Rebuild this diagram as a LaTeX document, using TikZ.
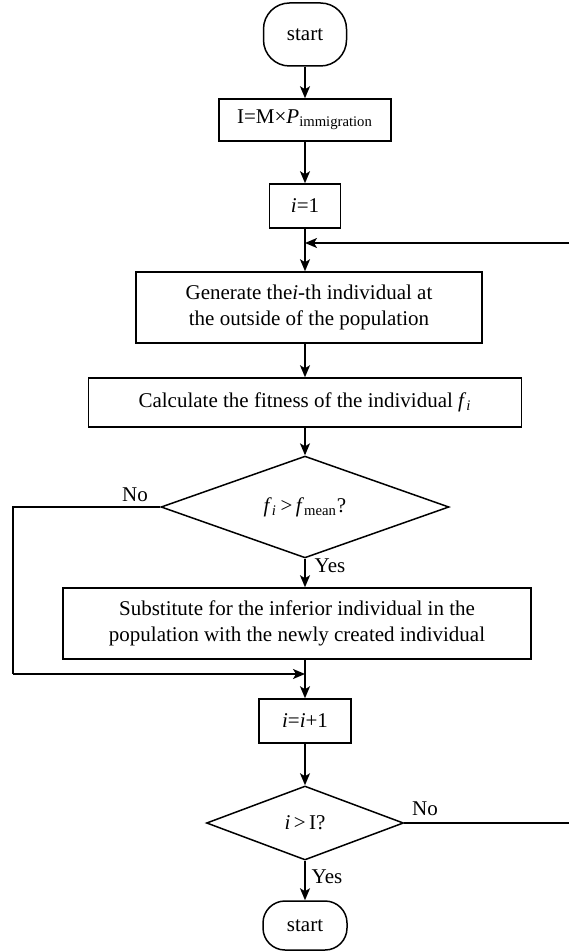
\documentclass[tikz,border=0pt]{standalone}
\usepackage{fontspec}
\setmainfont{Liberation Serif}
\usetikzlibrary{shapes.geometric,arrows.meta}

\begin{document}
\begin{tikzpicture}[x=0.5pt,y=-0.5pt,line width=0.75pt,
  font=\fontsize{10.5}{13}\selectfont,
  box/.style={draw,rectangle,inner sep=0pt,align=center},
  term/.style={draw,rectangle,rounded corners=13pt,inner sep=0pt},
  test/.style={draw,diamond,inner sep=0pt},
  flow/.style={-{Stealth[length=6pt,width=5pt,inset=1.5pt]}}]
\useasboundingbox (0,0) rectangle (569,951);
\def\ax{305};   % x of the main column
\def\rx{569};   % right edge, where the loop back leaves the picture
% nodes
\node[term,minimum width=41.5pt,minimum height=31.5pt] (start) at (\ax,34.5) {start};
\node[box,minimum width=86pt,minimum height=21pt] (imm) at (\ax,120) {I=M×\textit{P}\textsubscript{immigration}};
\node[box,minimum width=35.5pt,minimum height=22pt] (ione) at (\ax,206) {\textit{i}=1};
\node[box,minimum width=173pt,minimum height=35.5pt] (gen) at (\ax+4,307.5) {Generate the\textit{i}-th individual at\\the outside of the population};
\node[box,minimum width=216.5pt,minimum height=24.5pt] (calc) at (\ax,402.5) {Calculate the fitness of the individual \textit{f}\textsubscript{\textit{i}}};
\node[test,minimum width=144pt,minimum height=37pt] (fit) at (\ax,507) {\textit{f}\textsubscript{\textit{i}}\,>\,\textit{f}\textsubscript{mean}?};
\node[box,minimum width=234pt,minimum height=35.5pt] (subst) at (\ax-8,623.5) {Substitute for the inferior individual in the\\population with the newly created individual};
\node[box,minimum width=46pt,minimum height=22pt] (inc) at (\ax,721) {\textit{i}=\textit{i}+1};
\node[test,minimum width=98.5pt,minimum height=37pt] (done) at (\ax,823) {\textit{i}\,>\,I?};
\node[term,rounded corners=11pt,minimum width=42pt,minimum height=24.5pt] (stop) at (\ax,925.5) {start};
% labels
\node (no1) at (135,495) {No};
\node (yes1) at (330,566) {Yes};
\node (no2) at (425,809) {No};
\node (yes2) at (327,877) {Yes};
% corner points
\coordinate (left1) at (13,507);
\coordinate (left2) at (13,674);
\coordinate (back1) at (\rx,823);
\coordinate (back2) at (\rx,243);
% connectors
\draw[flow] (start) -- (imm);
\draw[flow] (imm) -- (ione);
\draw[flow] (ione) -- (gen.north -| ione.south);
\draw[flow] (gen.south -| calc.north) -- (calc);
\draw[flow] (calc) -- (fit);
\draw[flow] (fit) -- (subst.north -| fit.south);
\draw (fit.west) -- (left1) -- (left2);
\draw[flow] (left2) -- (left2 -| inc.north);
\draw[flow] (subst.south -| inc.north) -- (inc);
\draw[flow] (inc) -- (done);
\draw[flow] (done) -- (stop);
\draw (done.east) -- (back1);
\draw[flow] (back2) -- (back2 -| ione.south);
\end{tikzpicture}
\end{document}
